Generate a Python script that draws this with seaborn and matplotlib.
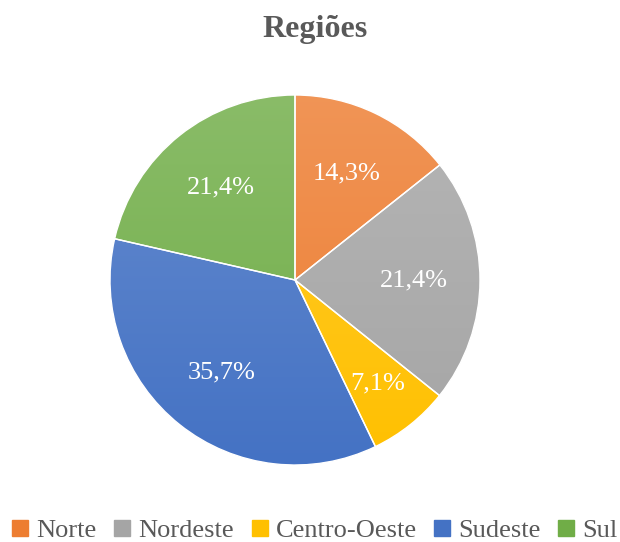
import matplotlib
matplotlib.use('Agg')
import numpy as np
import matplotlib.pyplot as plt
from matplotlib.lines import Line2D
from matplotlib.colors import to_rgb
import seaborn as sns

regioes = ['Norte', 'Nordeste', 'Centro-Oeste', 'Sudeste', 'Sul']
percentuais = [14.3, 21.4, 7.1, 35.7, 21.4]
cores = ['#ED7D31', '#A5A5A5', '#FFC000', '#4472C4', '#70AD47']

sns.set_theme(style='white')
plt.rcParams['font.family'] = ['Liberation Serif', 'DejaVu Serif']

palette = sns.color_palette(cores)

fig = plt.figure(figsize=(6.2, 5.42), dpi=100)
ax = fig.add_axes([110 / 620, 77 / 542, 370 / 620, 370 / 542])

wedges, _, autotexts = ax.pie(
    percentuais, colors=palette, startangle=90, counterclock=False,
    radius=1, pctdistance=0.64,
    autopct=lambda p: f'{p:.1f}'.replace('.', ',') + '%',
    wedgeprops=dict(edgecolor='white', linewidth=1),
    textprops=dict(color='white', fontsize=19))

# fatias pequenas: rótulo um pouco mais para fora
for w, txt in zip(wedges, autotexts):
    if w.theta2 - w.theta1 < 40:
        x, y = txt.get_position()
        txt.set_position((x * 1.12, y * 1.12))

# gradiente vertical suave (mais claro em cima), como no Excel
t = np.linspace(0, 1, 256)[:, None]
for w, c in zip(wedges, palette):
    base = np.array(to_rgb(c))
    claro = base + (1 - base) * 0.18
    grad = base[None, :] * (1 - t) + claro[None, :] * t
    img = np.concatenate([grad, np.ones((256, 1))], axis=1)[:, None, :]
    im = ax.imshow(img, extent=[-1, 1, -1, 1], origin='lower',
                   aspect='auto', zorder=1, interpolation='bilinear')
    im.set_clip_path(w)
    w.set_facecolor('none')
    w.set_zorder(2)
for txt in autotexts:
    txt.set_zorder(3)

ax.set_xlim(-1, 1)
ax.set_ylim(-1, 1)
ax.set_aspect('equal')
ax.axis('off')

fig.text(315 / 620, 1 - 29 / 542, 'Regiões', ha='center', va='center',
         fontsize=23, fontweight='bold', color='#595959')

handles = [Line2D([], [], marker='s', linestyle='', markersize=11,
                  markerfacecolor=c, markeredgecolor=c) for c in palette]
fig.legend(handles, regioes, loc='center', bbox_to_anchor=(315 / 620, 12 / 542),
           ncol=5, frameon=False, fontsize=19, handlelength=0.6,
           handletextpad=0.3, columnspacing=0.68, labelcolor='#595959',
           borderaxespad=0, borderpad=0)

fig.savefig('out.png', dpi=100)
